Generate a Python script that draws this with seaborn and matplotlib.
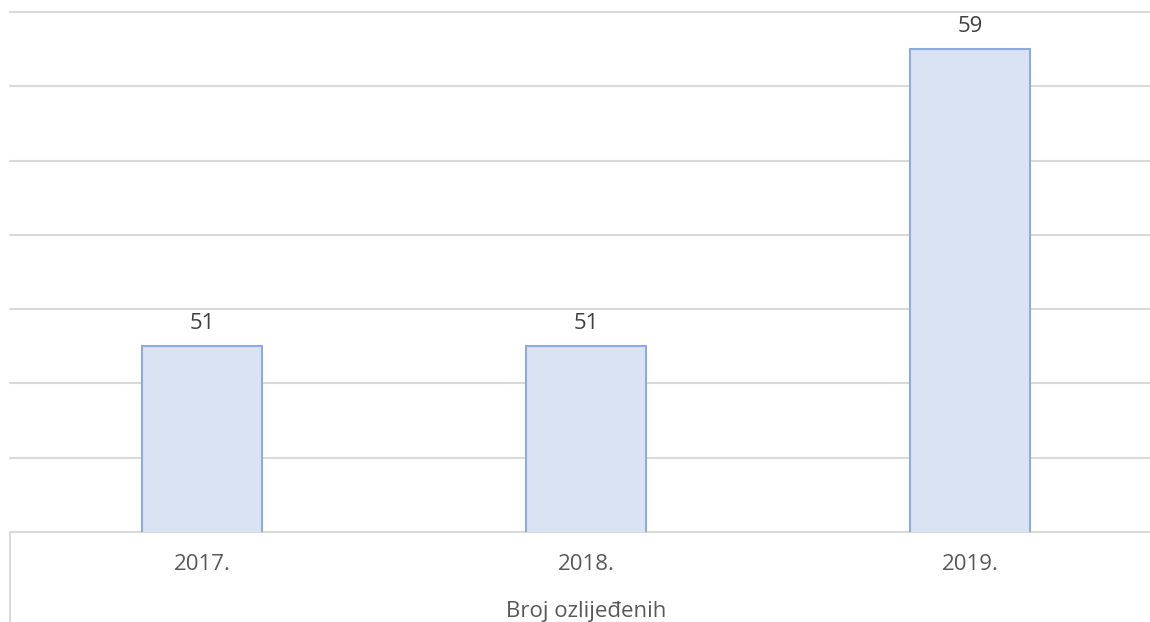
import matplotlib
matplotlib.use("Agg")
import matplotlib.pyplot as plt
import seaborn as sns
import pandas as pd

categories = ["2017.", "2018.", "2019."]
values = [51, 51, 59]
series_name = "Broj ozlijeđenih"

sns.set_theme(style="white")
plt.rcParams["font.family"] = ["Open Sans", "DejaVu Sans"]

df = pd.DataFrame({"godina": categories, "broj": values})

fig = plt.figure(figsize=(11.5, 6.22), dpi=100)
ax = fig.add_axes([10 / 1150, 90 / 622, 1152 / 1150, 520 / 622])

sns.barplot(data=df, x="godina", y="broj", ax=ax, width=0.3125,
            color="#DAE3F3", edgecolor="#8FAADC", linewidth=1.5,
            saturation=1, zorder=3)

ax.set_xlim(-0.5, 2.5)
ax.set_ylim(46, 60)
ax.set_yticks(range(46, 61, 2))
ax.set_yticklabels([])
ax.yaxis.grid(True, color="#D9D9D9", linewidth=1.5, zorder=0)
ax.set_axisbelow(True)
for gl in ax.get_ygridlines():
    gl.set_clip_on(False)
for s in ax.spines.values():
    s.set_visible(False)
ax.tick_params(axis="both", length=0)
ax.tick_params(axis="x", pad=15.5, labelsize=16, labelcolor="#595959")
ax.set_xlabel("")
ax.set_ylabel("")

# data labels
for i, v in enumerate(values):
    ax.annotate(str(v), xy=(i, v), xytext=(0, 12.2), textcoords="offset points",
                ha="center", va="baseline", fontsize=16, color="#404040")

# category axis title
ax.text(0.5, -85 / 520, series_name, transform=ax.transAxes, ha="center",
        va="baseline", fontsize=16, color="#595959")

# left divider of the category area
ax.plot([0, 0], [0, -90 / 520], transform=ax.transAxes, color="#D9D9D9",
        linewidth=1.5, clip_on=False)

fig.savefig("out.png", dpi=100)
